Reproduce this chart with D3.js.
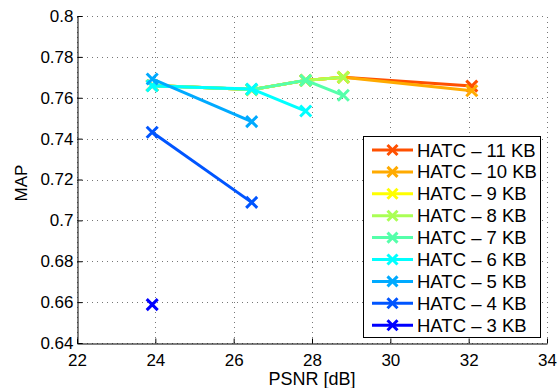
<!DOCTYPE html>
<html>
<head>
<meta charset="utf-8">
<script src="https://cdn.jsdelivr.net/npm/d3@7"></script>
<style>
  body { margin: 0; background: #fff; }
  text { font-family: "Liberation Sans", Arial, Helvetica, sans-serif; fill: #000; }
</style>
</head>
<body>
<svg id="chart"></svg>
<script>
// data
const psnr = [23.92, 26.46, 27.84, 28.80, 32.08];
const labels = ["HATC \u2013 11 KB", "HATC \u2013 10 KB", "HATC \u2013 9 KB", "HATC \u2013 8 KB",
  "HATC \u2013 7 KB", "HATC \u2013 6 KB", "HATC \u2013 5 KB", "HATC \u2013 4 KB", "HATC \u2013 3 KB"];
const colors = ["#ff5000", "#ffaa00", "#ffff00", "#aaff55", "#55ffaa", "#00ffff", "#00aaff", "#0055ff", "#0000ff"];
const kb11 = [0.766, 0.764, 0.7685, 0.770, 0.7657];
const kb10 = [0.766, 0.764, 0.7685, 0.770, 0.7634];
const kb9 = [0.766, 0.764, 0.7685, 0.770];
const kb8 = [0.766, 0.764, 0.7685, 0.770];
const kb7 = [0.766, 0.764, 0.7685, 0.7612];
const kb6 = [0.7658, 0.7643, 0.7535];
const kb5 = [0.7692, 0.7483];
const kb4 = [0.7431, 0.7088];
const kb3 = [0.6588];
const xTicks = [22, 24, 26, 28, 30, 32, 34];
const yTicks = [0.64, 0.66, 0.68, 0.7, 0.72, 0.74, 0.76, 0.78, 0.8];

const series = [kb11, kb10, kb9, kb8, kb7, kb6, kb5, kb4, kb3].map((v, i) => ({
  name: labels[i],
  color: colors[i],
  pts: v.map((y, j) => ({ x: psnr[j], y: y }))
}));

const width = 559, height = 388;
const margin = { top: 16, right: 12, bottom: 45, left: 77 };
const svg = d3.select("#chart").attr("width", width).attr("height", height);

const x = d3.scaleLinear().domain([22, 34]).range([margin.left, width - margin.right]);
const y = d3.scaleLinear().domain([0.64, 0.8]).range([height - margin.bottom, margin.top]);

// grid
const grid = svg.append("g").attr("stroke", "#777").attr("stroke-width", 1).attr("stroke-dasharray", "1,4");
grid.selectAll("line.gx").data(xTicks).enter().append("line")
  .attr("x1", d => Math.round(x(d)) + 0.5).attr("x2", d => Math.round(x(d)) + 0.5)
  .attr("y1", y(0.64)).attr("y2", y(0.8));
grid.selectAll("line.gy").data(yTicks).enter().append("line")
  .attr("y1", d => Math.round(y(d)) + 0.5).attr("y2", d => Math.round(y(d)) + 0.5)
  .attr("x1", x(22)).attr("x2", x(34));

// axes
const xAxis = svg.append("g")
  .attr("transform", `translate(0,${Math.round(y(0.64)) + 0.5})`)
  .call(d3.axisBottom(x).tickValues(xTicks).tickSizeInner(-5).tickSizeOuter(0).tickPadding(10));
const yAxis = svg.append("g")
  .attr("transform", `translate(${Math.round(x(22)) + 0.5},0)`)
  .call(d3.axisLeft(y).tickValues(yTicks).tickSizeInner(-5).tickSizeOuter(0).tickPadding(4)
    .tickFormat(d => d3.format("")(+d.toFixed(2))));
[xAxis, yAxis].forEach(a => {
  a.select(".domain").attr("stroke", "#000");
  a.selectAll(".tick line").attr("stroke", "#000");
  a.selectAll("text").style("font-size", "17px").attr("font-family", null);
});

svg.append("text").attr("x", x(28)).attr("y", 385).attr("text-anchor", "middle")
  .style("font-size", "18px").text("PSNR [dB]");
svg.append("text").attr("transform", `translate(27,183) rotate(-90)`).attr("text-anchor", "middle")
  .style("font-size", "17px").text("MAP");

// lines and markers
const line = d3.line().x(d => x(d.x)).y(d => y(d.y));
const cross = (g, cx, cy, r) => g.append("path")
  .attr("d", `M${cx - r},${cy - r}L${cx + r},${cy + r}M${cx - r},${cy + r}L${cx + r},${cy - r}`);

series.forEach(s => {
  const g = svg.append("g").attr("stroke", s.color).attr("stroke-width", 3).attr("fill", "none");
  if (s.pts.length > 1) g.append("path").attr("d", line(s.pts));
  s.pts.forEach(p => cross(g, x(p.x), y(p.y), 5.5));
});

// legend
const lg = svg.append("g").attr("transform", "translate(363,136)");
lg.append("rect").attr("x", 0.5).attr("y", 0.5).attr("width", 177).attr("height", 201)
  .attr("fill", "#fff").attr("stroke", "#000");
series.forEach((s, i) => {
  const cy = 14 + i * 21.9;
  const g = lg.append("g").attr("stroke", s.color).attr("stroke-width", 3).attr("fill", "none");
  g.append("line").attr("x1", 9).attr("x2", 50).attr("y1", cy).attr("y2", cy);
  cross(g, 29.5, cy, 5);
  lg.append("text").attr("x", 54).attr("y", cy + 6.5).style("font-size", "18.5px").text(s.name);
});
</script>
</body>
</html>
